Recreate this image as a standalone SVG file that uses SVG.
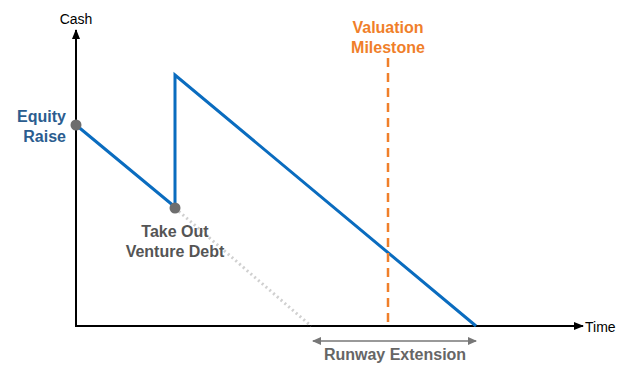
<svg xmlns="http://www.w3.org/2000/svg" width="633" height="371" viewBox="0 0 633 371">
<style>
text{font-family:"Liberation Sans",Arial,sans-serif}
.b{font-weight:bold;font-size:16px}
.ax{stroke:#000;stroke-width:2;fill:none}
.blue{stroke:#0a6cbf;stroke-width:3;fill:none}
</style>
<defs>
<marker id="ah" markerWidth="10" markerHeight="8" refX="9" refY="4" orient="auto" markerUnits="userSpaceOnUse"><path d="M0,0 L10,4 L0,8 Z" fill="#000"/></marker>
<marker id="gh" markerWidth="9" markerHeight="8" refX="8" refY="4" orient="auto-start-reverse" markerUnits="userSpaceOnUse"><path d="M0,0 L9,4 L0,8 Z" fill="#777"/></marker>
</defs>
<g id="connectors">
<line class="ax" x1="76" y1="327" x2="76" y2="30" marker-end="url(#ah)"/>
<line class="ax" x1="75" y1="326" x2="583" y2="326" marker-end="url(#ah)"/>
<line x1="175" y1="208" x2="311" y2="326" stroke="#d0d0d0" stroke-width="3" stroke-dasharray="2 3"/>
<polyline class="blue" points="76,125 175,207 175,75 476,326"/>
<line x1="388" y1="58" x2="388" y2="326" stroke="#f07f2a" stroke-width="2.5" stroke-dasharray="9 6"/>
<line x1="313" y1="341" x2="476" y2="341" stroke="#777" stroke-width="1.5" marker-start="url(#gh)" marker-end="url(#gh)"/>
</g>
<g id="cash"><text x="76" y="24" font-size="14" text-anchor="middle" fill="#000">Cash</text></g>
<g id="time"><text x="585" y="332" font-size="14" fill="#000">Time</text></g>
<g id="equity-raise">
<circle cx="76" cy="125" r="5.5" fill="#6e6e6e"/>
<text class="b" x="66" y="122" text-anchor="end" fill="#2b5d8f">Equity</text>
<text class="b" x="66" y="142" text-anchor="end" fill="#2b5d8f">Raise</text>
</g>
<g id="venture-debt">
<circle cx="175" cy="208" r="5.5" fill="#6e6e6e"/>
<text class="b" x="175" y="237" text-anchor="middle" fill="#555">Take Out</text>
<text class="b" x="175" y="257" text-anchor="middle" fill="#555">Venture Debt</text>
</g>
<g id="valuation-milestone">
<text class="b" x="388" y="33" text-anchor="middle" fill="#f07f2a">Valuation</text>
<text class="b" x="388" y="53" text-anchor="middle" fill="#f07f2a">Milestone</text>
</g>
<g id="runway-extension"><text class="b" x="395" y="360" text-anchor="middle" fill="#666">Runway Extension</text></g>
</svg>
